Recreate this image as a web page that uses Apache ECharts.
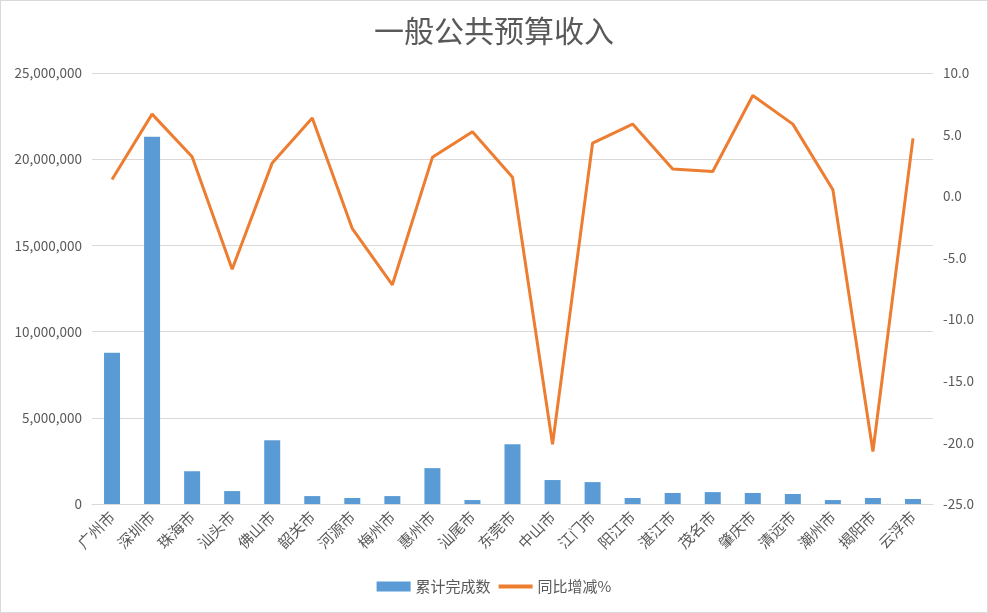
<!DOCTYPE html>
<html>
<head>
<meta charset="utf-8">
<script src="https://cdn.jsdelivr.net/npm/echarts@6/dist/echarts.min.js"></script>
<style>
html, body { margin: 0; padding: 0; background: #fff; }
#main { width: 988px; height: 613px; box-sizing: border-box; border: 1px solid #d9d9d9; }
</style>
</head>
<body>
<div id="main"></div>
<script>
// 城市
var cities = ['广州市', '深圳市', '珠海市', '汕头市', '佛山市', '韶关市', '河源市', '梅州市', '惠州市', '汕尾市', '东莞市',
              '中山市', '江门市', '阳江市', '湛江市', '茂名市', '肇庆市', '清远市', '潮州市', '揭阳市', '云浮市'];
// 累计完成数
var totals = [8780000, 21300000, 1900000, 750000, 3700000, 460000, 350000, 460000, 2080000, 230000, 3460000,
              1390000, 1270000, 350000, 640000, 690000, 640000, 580000, 230000, 350000, 290000];
// 同比增减%
var growth = [1.35, 6.66, 3.2, -5.93, 2.7, 6.34, -2.64, -7.2, 3.15, 5.23, 1.54,
              -20.15, 4.31, 5.85, 2.2, 2.0, 8.17, 5.85, 0.52, -20.74, 4.69];

var myChart = echarts.init(document.getElementById('main'));
var option = {
    backgroundColor: '#fff',
    textStyle: { fontFamily: '"Noto Sans CJK SC", sans-serif' },
    title: {
        text: '一般公共预算收入',
        left: 'center',
        top: 10,
        textStyle: {
            fontSize: 30,
            fontWeight: 'normal',
            color: '#595959'
        }
    },
    legend: {
        bottom: 13,
        left: 'center',
        itemGap: 6,
        itemWidth: 34,
        itemHeight: 10,
        textStyle: { color: '#595959', fontSize: 15 },
        data: [
            { name: '累计完成数', icon: 'rect' },
            { name: '同比增减%', itemStyle: { opacity: 0 }, lineStyle: { width: 4 } }
        ]
    },
    grid: {
        left: 91,
        right: 54,
        top: 72,
        bottom: 108
    },
    xAxis: {
        type: 'category',
        data: cities,
        axisTick: { show: false },
        axisLine: { lineStyle: { color: '#d9d9d9' } },
        axisLabel: {
            rotate: 45,
            interval: 0,
            color: '#595959',
            fontSize: 15,
            margin: 10
        }
    },
    yAxis: [{
        type: 'value',
        min: 0,
        max: 25000000,
        interval: 5000000,
        axisLine: { show: false },
        axisTick: { show: false },
        splitLine: { lineStyle: { color: '#d9d9d9' } },
        axisLabel: {
            color: '#595959',
            fontSize: 13.5,
            margin: 10,
            formatter: function (v) { return v.toLocaleString('en-US'); }
        }
    }, {
        type: 'value',
        min: -25,
        max: 10,
        interval: 5,
        axisLine: { show: false },
        axisTick: { show: false },
        splitLine: { show: false },
        axisLabel: {
            color: '#595959',
            fontSize: 13.5,
            margin: 10,
            formatter: function (v) { return v.toFixed(1); }
        }
    }],
    series: [{
        name: '累计完成数',
        type: 'bar',
        data: totals,
        barWidth: 16,
        itemStyle: { color: '#5B9BD5' }
    }, {
        name: '同比增减%',
        type: 'line',
        yAxisIndex: 1,
        data: growth,
        symbol: 'none',
        lineStyle: { color: '#ED7D31', width: 3 },
        itemStyle: { color: '#ED7D31' }
    }]
};
myChart.setOption(option);
</script>
</body>
</html>
